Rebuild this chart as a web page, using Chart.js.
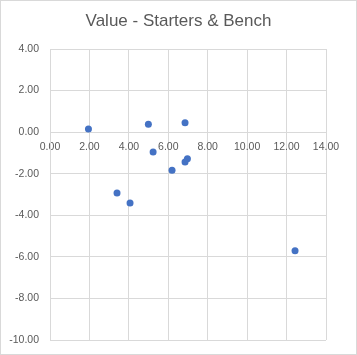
<!DOCTYPE html>
<html>
<head>
<meta charset="utf-8">
<script src="https://cdn.jsdelivr.net/npm/chart.js@4"></script>
<style>
html,body{margin:0;padding:0;background:#fff;}
#wrap{position:relative;width:357px;height:355px;}
canvas{display:block;}
</style>
</head>
<body>
<div id="wrap"><canvas id="c" width="357" height="355"></canvas></div>
<script>
const chartTitle = "Value - Starters & Bench";
const xValues = [1.95, 4.99, 6.85, 5.23, 6.97, 6.85, 6.19, 3.40, 4.06, 12.43];
const yValues = [0.15, 0.38, 0.45, -0.96, -1.28, -1.44, -1.83, -2.93, -3.41, -5.71];
const xTicks = [0, 2, 4, 6, 8, 10, 12, 14];
const yTicks = [4, 2, 0, -2, -4, -6, -8, -10];

const points = xValues.map((x, i) => ({x: x, y: yValues[i]}));

const decorPlugin = {
  id: 'decor',
  afterDraw(chart) {
    const ctx = chart.ctx;
    ctx.save();
    ctx.strokeStyle = '#d9d9d9';
    ctx.lineWidth = 1;
    ctx.strokeRect(0.5, 0.5, chart.width - 1, chart.height - 1);
    ctx.fillStyle = '#595959';
    ctx.font = 'normal 17px "Liberation Sans"';
    ctx.textAlign = 'center';
    ctx.textBaseline = 'middle';
    ctx.fillText(chartTitle, chart.width / 2, 21);
    ctx.restore();
  }
};

new Chart(document.getElementById('c'), {
  type: 'scatter',
  data: {
    datasets: [{
      data: points,
      backgroundColor: '#4472c4',
      borderColor: '#4472c4',
      pointRadius: 3.5,
      pointHoverRadius: 3.5,
      borderWidth: 0
    }]
  },
  options: {
    responsive: false,
    devicePixelRatio: 1,
    animation: false,
    layout: {padding: {left: 0, right: 31, top: 49, bottom: 15}},
    plugins: {
      legend: {display: false},
      tooltip: {enabled: false},
      title: {display: false}
    },
    scales: {
      x: {
        type: 'linear',
        position: {y: 0},
        min: 0, max: 14,
        afterBuildTicks: (s) => { s.ticks = xTicks.map(v => ({value: v})); },
        ticks: {
          color: '#595959',
          font: {family: 'Liberation Sans', size: 10.5},
          padding: 9,
          maxRotation: 0,
          callback: (v) => Number(v).toFixed(2)
        },
        grid: {color: '#d9d9d9', lineWidth: 1, drawTicks: false},
        border: {color: '#d9d9d9', width: 1}
      },
      y: {
        type: 'linear',
        position: 'left',
        min: -10, max: 4,
        afterBuildTicks: (s) => { s.ticks = yTicks.map(v => ({value: v})); },
        afterFit: (s) => { s.width = 50; s.paddingTop = 0; s.paddingBottom = 0; },
        ticks: {
          color: '#595959',
          font: {family: 'Liberation Sans', size: 10.5},
          padding: 11,
          callback: (v) => Number(v).toFixed(2)
        },
        grid: {color: '#d9d9d9', lineWidth: 1, drawTicks: false},
        border: {color: '#d9d9d9', width: 1}
      }
    }
  },
  plugins: [decorPlugin]
});
</script>
</body>
</html>
